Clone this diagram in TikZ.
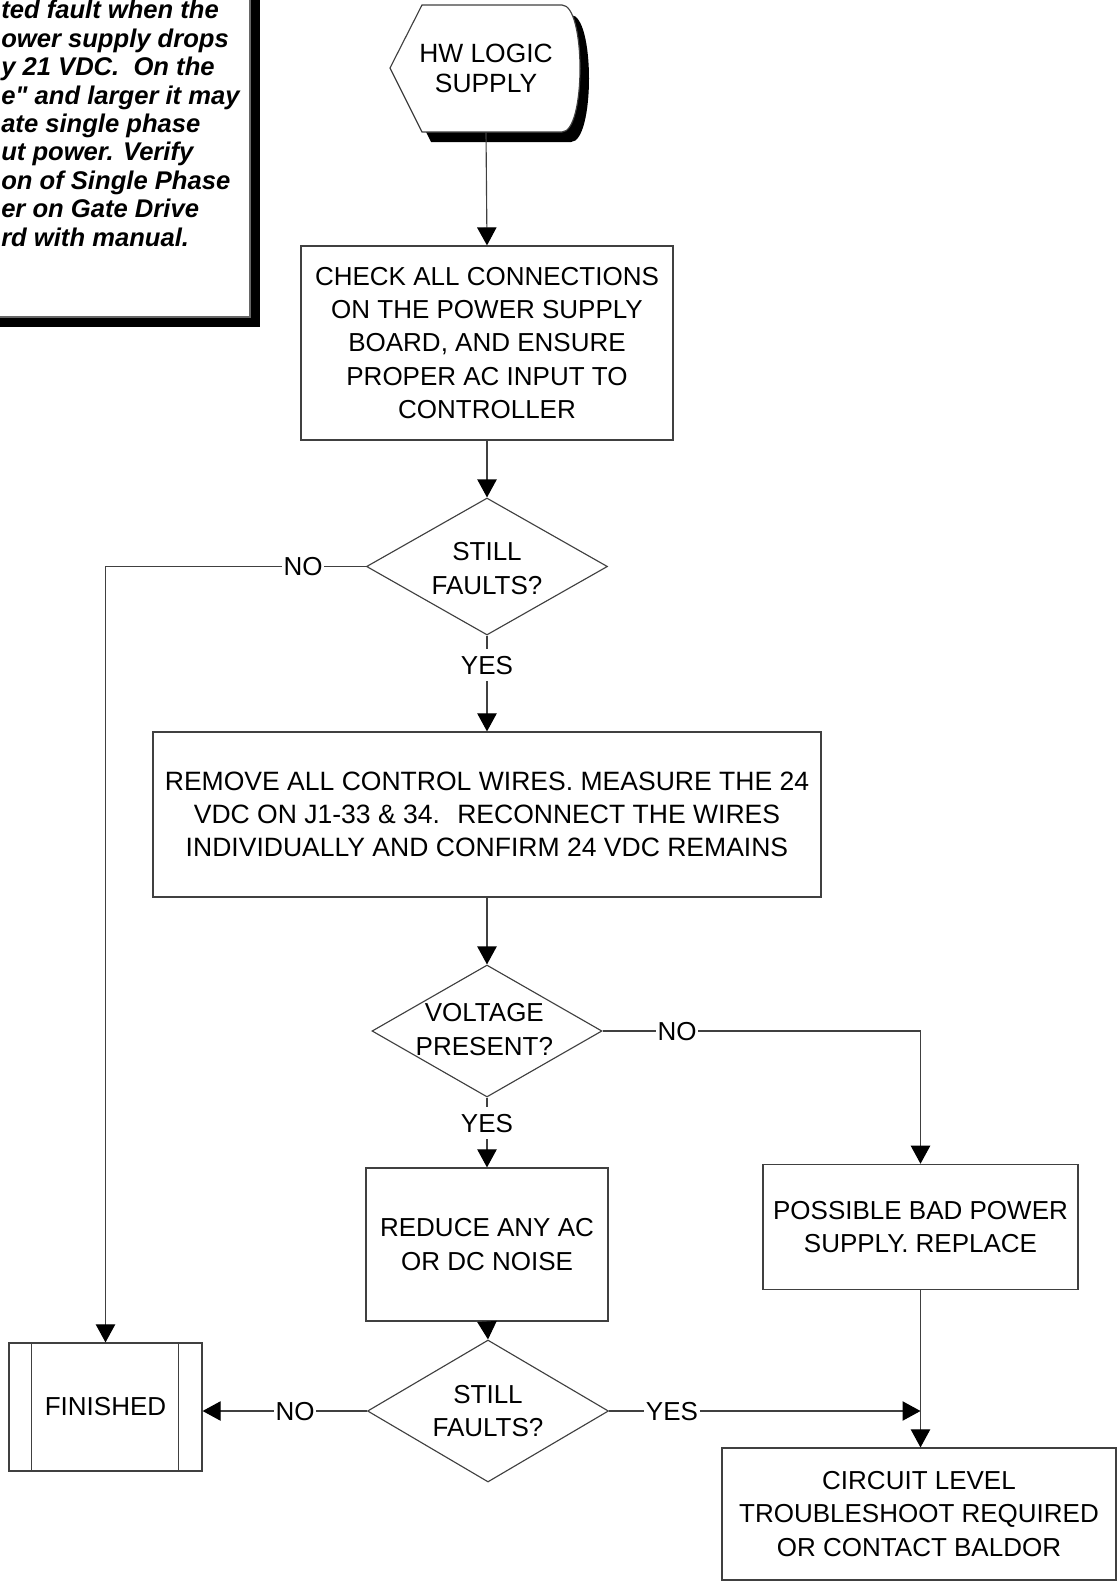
\documentclass[tikz,border=0pt]{standalone}
\usepackage{fontspec}
\setmainfont{Liberation Sans}[Ligatures=TeXOff]
\usetikzlibrary{shapes.geometric,arrows.meta}

\begin{document}
\begin{tikzpicture}[x=0.75pt,y=-0.75pt,
  every node/.style={font=\fontsize{19.5pt}{25pt}\selectfont},
  line/.style={draw=black!75, line width=0.85pt},
  arr/.style={line, -{Triangle[length=13.5pt,width=14.5pt,color=black]}},
  box/.style={draw=black!75, line width=0.9pt, fill=white, align=center, inner sep=0pt},
  dec/.style={diamond, draw=black!75, line width=0.85pt, fill=white, inner sep=0pt},
  lab/.style={inner xsep=1.2pt, inner ysep=5pt, text height=13.8pt, text depth=0pt},
  notefont/.style={font=\bfseries\itshape\fontsize{19.2pt}{21.3pt}\selectfont},
]
\useasboundingbox (0,0) rectangle (1120,1585);
\clip (0,0) rectangle (1120,1585);

% note panel in the upper left corner, with its black drop shadow
\fill[black] (-30,-30) rectangle (260,327);
\draw[fill=white, draw=black!60, line width=0.8pt] (-30,-30) rectangle (250,317);
\node[notefont, align=left, anchor=north west, inner sep=0pt] (note) at (1,0)
  {ted fault when the\\ower supply drops\\y 21 VDC.~ On the\\e" and larger it may\\ate single phase\\ut power. Verify\\on of Single Phase\\er on Gate Drive\\rd with manual.};

% start terminal: display shape with shadow
\fill[black] (399,78) -- (431,15) -- (571,15) .. controls (595,15) and (595,142) .. (571,142) -- (431,142) -- cycle;
\draw[fill=white, draw=black!75, line width=0.85pt] (390,68) -- (422,5) -- (562,5) .. controls (586,5) and (586,132) .. (562,132) -- (422,132) -- cycle;
\node[minimum width=142.5pt, minimum height=95.25pt, inner sep=0pt, align=center,
      font=\fontsize{19.8pt}{23pt}\selectfont] (hw) at (486,68.5) {HW LOGIC\\SUPPLY};

% process boxes
\node[box, minimum width=279pt, minimum height=145.5pt] (b1) at (487,343)
  {CHECK ALL CONNECTIONS\\ON THE POWER SUPPLY\\BOARD, AND ENSURE\\PROPER AC INPUT TO\\CONTROLLER};
\node[box, minimum width=501pt, minimum height=123.75pt, font=\fontsize{19.9pt}{24.5pt}\selectfont] (b2) at (487,814.5)
  {REMOVE ALL CONTROL WIRES. MEASURE THE 24\\VDC ON J1-33 \& 34.~ RECONNECT THE WIRES\\INDIVIDUALLY AND CONFIRM 24 VDC REMAINS};
\node[box, minimum width=181.5pt, minimum height=114.75pt] (rd) at (487,1244.5)
  {REDUCE ANY AC\\OR DC NOISE};
\node[box, minimum width=236.25pt, minimum height=94pt] (pb) at (920.5,1227)
  {POSSIBLE BAD POWER\\SUPPLY. REPLACE};
\node[box, minimum width=295.5pt, minimum height=99pt] (cl) at (919,1514)
  {CIRCUIT LEVEL\\TROUBLESHOOT REQUIRED\\OR CONTACT BALDOR};
\node[box, minimum width=144.75pt, minimum height=96pt] (fin) at (105.5,1407) {FINISHED};
\draw[draw=black!75, line width=0.9pt] ([xshift=17.25pt]fin.north west) -- ([xshift=17.25pt]fin.south west);
\draw[draw=black!75, line width=0.9pt] ([xshift=-18pt]fin.north east) -- ([xshift=-18pt]fin.south east);

% decisions
\node[dec, minimum width=180.75pt, minimum height=102.75pt,
      label={[align=center, yshift=-1.5pt]center:STILL\\FAULTS?}] (d1) at (487,566.5) {};
\node[dec, minimum width=172.5pt, minimum height=99pt,
      label={[align=center, xshift=-2pt, yshift=1pt]center:VOLTAGE\\PRESENT?}] (d2) at (487,1031) {};
\node[dec, minimum width=180.75pt, minimum height=106.5pt,
      label={[align=center]center:STILL\\FAULTS?}] (d3) at (488,1411) {};

% branch labels
\node[lab] (no1) at (303,566.5) {NO};
\node[lab] (yes1) at (487,665) {YES};
\node[lab] (no2) at (677,1031) {NO};
\node[lab] (yes2) at (487,1123) {YES};
\node[lab] (yes3) at (672,1411) {YES};
\node[lab] (no3) at (295,1411) {NO};

% connectors
\draw[arr] (hw.south) -- (b1.north);
\draw[arr] (b1.south) -- (d1.north);
\draw[line] (d1.south) -- (yes1);
\draw[arr] (yes1) -- (b2.north);
\draw[line] (d1.west) -- (no1);
\draw[arr] (no1) -| (fin.north);
\draw[arr] (b2.south) -- (d2.north);
\draw[line] (d2.south) -- (yes2);
\draw[arr] (yes2) -- (rd.north);
\draw[line] (d2.east) -- (no2);
\draw[arr] (no2) -| (pb.north);
\draw[arr] (rd.south) -- (d3.north);
\draw[line] (d3.west) -- (no3);
\draw[arr] (no3) -- (fin.east |- no3);
\draw[line] (d3.east) -- (yes3);
\draw[arr] (yes3) -- (pb.south |- yes3);
\draw[arr] (pb.south) -- (pb.south |- cl.north);
\end{tikzpicture}
\end{document}
